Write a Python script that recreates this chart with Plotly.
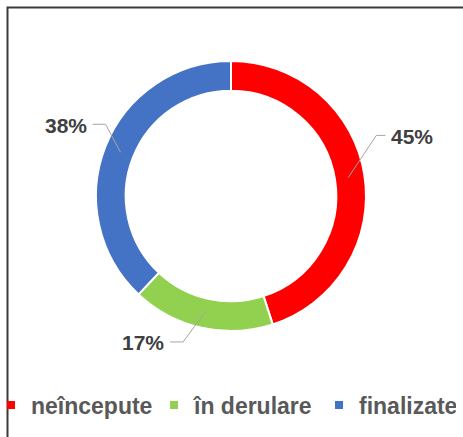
import math
import plotly.graph_objects as go

# ---- data ----
categories = ["neîncepute", "în derulare", "finalizate"]
values = [45, 17, 38]
colors = ["#FF0000", "#92D050", "#4472C4"]

# ---- layout helpers ----
W, H = 463, 437
B = 50                    # bottom margin (legend sits below the plot area)
PH = H - B
PIE_BOX = (96, 61, 366, 331)   # left, top, right, bottom in px
CX = (PIE_BOX[0] + PIE_BOX[2]) / 2
CY = (PIE_BOX[1] + PIE_BOX[3]) / 2
RAD = (PIE_BOX[2] - PIE_BOX[0]) / 2


def to_paper(px, py):
    return px / W, (PH - py) / PH


# label elbow offsets (px) relative to the leader start, and horizontal tail length
label_elbow = [(28, -42), (-22, 30), (-15, -28)]
tail = [9, -13, -13]
legend_widths = [118, 120, 92]

fig = go.Figure()
dx0, dy1 = to_paper(PIE_BOX[0], PIE_BOX[1])
dx1, dy0 = to_paper(PIE_BOX[2], PIE_BOX[3])
fig.add_trace(go.Pie(
    labels=categories, values=values, hole=0.78, sort=False,
    direction="clockwise", rotation=0,
    domain=dict(x=[dx0, dx1], y=[dy0, dy1]),
    marker=dict(colors=colors, line=dict(color="white", width=2)),
    textinfo="none", hoverinfo="label+percent", showlegend=False,
))

for name, c, lw in zip(categories, colors, legend_widths):
    fig.add_trace(go.Scatter(
        x=[None], y=[None], mode="markers", name=name, legendwidth=lw,
        marker=dict(symbol="square", size=8, color=c), hoverinfo="skip",
    ))

total = sum(values)
cum = 0
shapes = []
annotations = []
for i, v in enumerate(values):
    mid = (cum + v / 2) / total * 2 * math.pi
    cum += v
    sx = CX + 0.88 * RAD * math.sin(mid)
    sy = CY - 0.88 * RAD * math.cos(mid)
    ex, ey = sx + label_elbow[i][0], sy + label_elbow[i][1]
    tx = ex + tail[i]
    p0, p1, p2 = to_paper(sx, sy), to_paper(ex, ey), to_paper(tx, ey)
    shapes.append(dict(
        type="path", xref="paper", yref="paper",
        path=f"M {p0[0]},{p0[1]} L {p1[0]},{p1[1]} L {p2[0]},{p2[1]}",
        line=dict(color="#A6A6A6", width=1),
    ))
    pct = f"{round(v / total * 100)}%"
    right = tail[i] > 0
    ax, ay = to_paper(tx + (4 if right else -4), ey + 1)
    annotations.append(dict(
        x=ax, y=ay, xref="paper", yref="paper", text=pct, showarrow=False,
        xanchor="left" if right else "right", yanchor="middle",
        font=dict(family="Liberation Sans, Arial", size=21, color="#404040",
                  weight="bold"),
    ))

# outer chart border
bx0, by0 = to_paper(7.5, 7.5)
bx1, by1 = to_paper(480, 480)
shapes.append(dict(type="rect", xref="paper", yref="paper",
                   x0=bx0, y0=by1, x1=bx1, y1=by0,
                   line=dict(color="#3A3A3A", width=2), layer="below"))

lx, ly = to_paper(-9, 405)
fig.update_layout(
    width=W, height=H,
    margin=dict(l=0, r=0, t=0, b=B, autoexpand=False),
    paper_bgcolor="white", plot_bgcolor="white",
    xaxis=dict(visible=False), yaxis=dict(visible=False),
    shapes=shapes, annotations=annotations,
    legend=dict(orientation="h", x=lx, y=ly, xanchor="left", yanchor="middle",
                font=dict(family="Liberation Sans, Arial", size=23, color="#595959",
                          weight="bold"),
                itemwidth=30, bgcolor="rgba(0,0,0,0)"),
    font=dict(family="Liberation Sans, Arial"),
)
fig.write_html("out.html", config={"displayModeBar": False},
               post_script="document.body.style.margin='0px';")
